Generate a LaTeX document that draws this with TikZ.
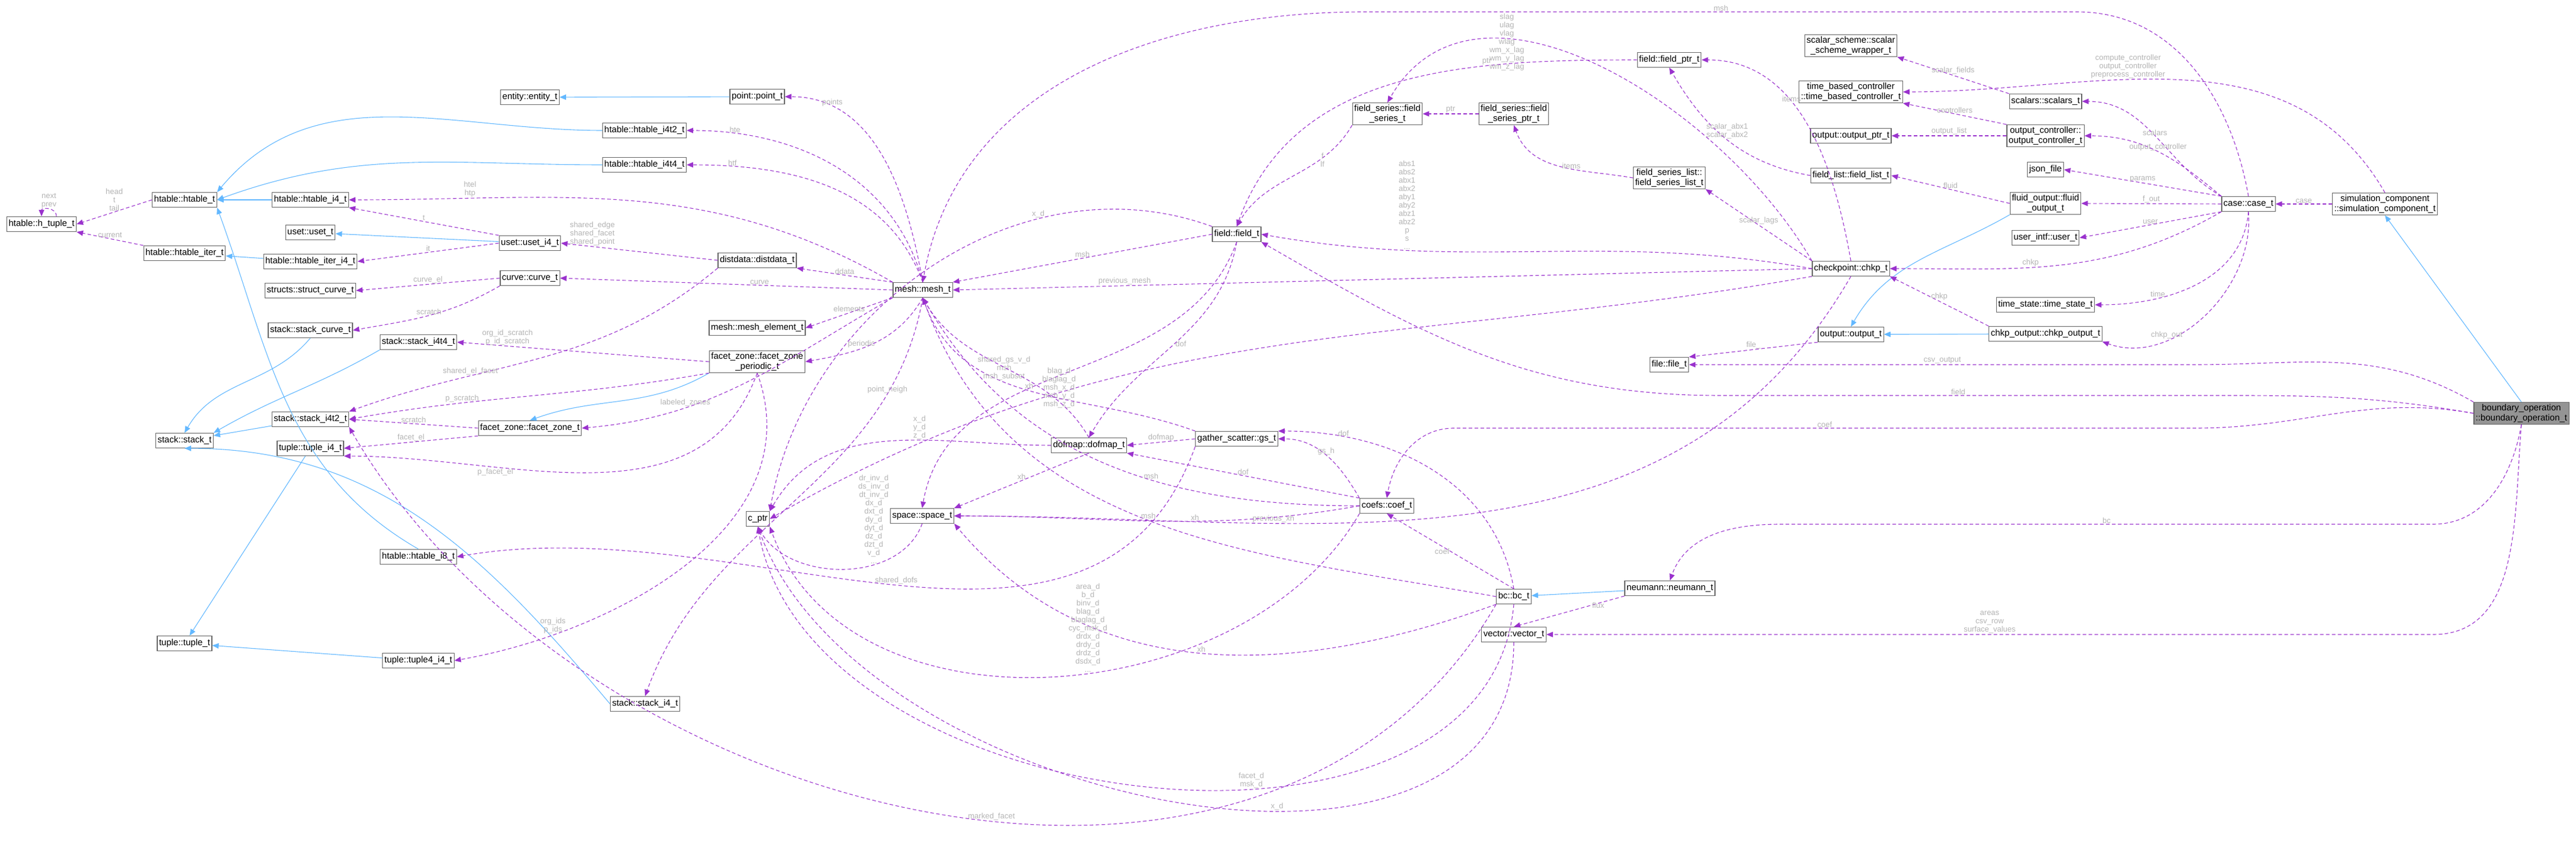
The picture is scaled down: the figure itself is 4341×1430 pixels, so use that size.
\documentclass[tikz,border=0pt]{standalone}
\usepackage{fontspec}
\setmainfont{Liberation Sans}
\usetikzlibrary{arrows.meta, positioning}
\definecolor{usecol}{HTML}{9A32CD}
\definecolor{inhcol}{HTML}{63B8FF}
\definecolor{boxcol}{HTML}{666666}
\definecolor{lblcol}{HTML}{B4B4B4}
\tikzset{
  box/.style = {draw=boxcol, line width=0.36pt, fill=white, font=\fontsize{4.5}{5.1}\selectfont,
    minimum height=7.5pt, inner sep=0.9pt, align=center},
  gbox/.style = {box, fill=black!42},
  uses/.style = {draw=usecol, dash pattern=on 1.8pt off 1.2pt, line width=0.33pt,
    -{Triangle[length=3.3pt,width=2.7pt]}},
  inherit/.style = {draw=inhcol, line width=0.33pt, -{Triangle[length=3.3pt,width=2.7pt]}},
  lbl/.style = {text=lblcol, font=\fontsize{3.9}{4.2}\selectfont, align=center, inner sep=0.3pt}
}
\begin{document}
\begin{tikzpicture}[x=0.3pt, y=-0.3pt]
\useasboundingbox (0,0) rectangle (4341,1430);
% nodes
\node[box] (htuple) at (70,378) {htable::h\_tuple\_t};
\node[box] (htable) at (311,337) {htable::htable\_t};
\node[box] (htiter) at (311,427) {htable::htable\_iter\_t};
\node[box] (hti4) at (523,337) {htable::htable\_i4\_t};
\node[box] (uset) at (523,392) {uset::uset\_t};
\node[box] (useti4) at (893,410) {uset::uset\_i4\_t};
\node[box] (htiteri4) at (523,441) {htable::htable\_iter\_i4\_t};
\node[box] (entity) at (893,164) {entity::entity\_t};
\node[box] (curve) at (893,469) {curve::curve\_t};
\node[box] (scurve) at (523,490) {structs::struct\_curve\_t};
\node[box] (stcurve) at (523,557) {stack::stack\_curve\_t};
\node[box] (sti4t4) at (705,577) {stack::stack\_i4t4\_t};
\node[box] (sti4t2) at (523,707) {stack::stack\_i4t2\_t};
\node[box] (stack) at (311,743) {stack::stack\_t};
\node[box] (tuplei4) at (523,756) {tuple::tuple\_i4\_t};
\node[box] (fzone) at (893,722) {facet\_zone::facet\_zone\_t};
\node[box] (hti8) at (705,939) {htable::htable\_i8\_t};
\node[box] (tuple) at (311,1085) {tuple::tuple\_t};
\node[box] (tuple4) at (705,1114) {tuple::tuple4\_i4\_t};
\node[box] (point) at (1276,163) {point::point\_t};
\node[box] (hti4t2) at (1086,220) {htable::htable\_i4t2\_t};
\node[box] (hti4t4) at (1086,278) {htable::htable\_i4t4\_t};
\node[box] (ddata) at (1276,439) {distdata::distdata\_t};
\node[box] (mesh) at (1555,489) {mesh::mesh\_t};
\node[box] (melem) at (1276,553) {mesh::mesh\_element\_t};
\node[box] (fzper) at (1276,610) {facet\_zone::facet\_zone\\\_periodic\_t};
\node[box] (sti4) at (1087,1187) {stack::stack\_i4\_t};
\node[box] (cptr) at (1277,875) {c\_ptr};
\node[box] (space) at (1554,870) {space::space\_t};
\node[box] (dofmap) at (1835,751) {dofmap::dofmap\_t};
\node[box] (gs) at (2084,740) {gather\_scatter::gs\_t};
\node[box] (coef) at (2337,853) {coefs::coef\_t};
\node[box] (bc) at (2551,1006) {bc::bc\_t};
\node[box] (neumann) at (2814,992) {neumann::neumann\_t};
\node[box] (vector) at (2551,1070) {vector::vector\_t};
\node[box] (field) at (2084,395) {field::field\_t};
\node[box] (fseries) at (2338,192) {field\_series::field\\\_series\_t};
\node[box] (fsptr) at (2551,192) {field\_series::field\\\_series\_ptr\_t};
\node[box] (fptr) at (2813,101) {field::field\_ptr\_t};
\node[box] (fslist) at (2813,300) {field\_series\_list::\\field\_series\_list\_t};
\node[box] (ssw) at (3119,77) {scalar\_scheme::scalar\\\_scheme\_wrapper\_t};
\node[box] (tbc) at (3119,155) {time\_based\_controller\\::time\_based\_controller\_t};
\node[box] (optr) at (3119,229) {output::output\_ptr\_t};
\node[box] (flist) at (3119,296) {field\_list::field\_list\_t};
\node[box] (chkp) at (3119,453) {checkpoint::chkp\_t};
\node[box] (output) at (3119,564) {output::output\_t};
\node[box] (file) at (2813,615) {file::file\_t};
\node[box] (scalars) at (3447,171) {scalars::scalars\_t};
\node[box] (octrl) at (3447,229) {output\_controller::\\output\_controller\_t};
\node[box] (json) at (3447,286) {json\_file};
\node[box] (fout) at (3447,343) {fluid\_output::fluid\\\_output\_t};
\node[box] (user) at (3447,401) {user\_intf::user\_t};
\node[box] (tstate) at (3447,514) {time\_state::time\_state\_t};
\node[box] (chkpout) at (3447,563) {chkp\_output::chkp\_output\_t};
\node[box] (case) at (3789,344) {case::case\_t};
\node[box] (simcomp) at (4019,344) {simulation\_component\\::simulation\_component\_t};
\node[gbox] (bop) at (4249,697) {boundary\_operation\\::boundary\_operation\_t};
% inheritance
\draw[inherit] (point) -- (entity);
\draw[inherit] (hti4t2.west) to[out=180,in=50] (htable.north east);
\draw[inherit] (hti4t4.west) to[out=180,in=20] (htable.east);
\draw[inherit] (hti4) -- (htable);
\draw[inherit] (hti8.north) to[out=150,in=-70] (htable.south east);
\draw[inherit] (htiteri4) -- (htiter);
\draw[inherit] (useti4) -- (uset);
\draw[inherit] (stcurve.south) to[out=-130,in=60] (stack.north);
\draw[inherit] (sti4t4.south west) to[out=-150,in=30] (stack.north east);
\draw[inherit] (sti4t2) -- (stack);
\draw[inherit] (sti4.west) to[out=130,in=0] (stack.south);
\draw[inherit] (tuplei4) -- (tuple);
\draw[inherit] (tuple4) -- (tuple);
\draw[inherit] (fzper.south west) to[out=-150,in=20] (fzone.north);
\draw[inherit] (fout.south west) to[out=-150,in=60] (output.north);
\draw[inherit] (chkpout) -- (output);
\draw[inherit] (neumann) -- (bc);
\draw[inherit] (bop.north) -- (simcomp.south);
% members, left part
\draw[uses] ([xshift=7.5pt]htuple.north) to[out=90,in=90,looseness=1.6] node[lbl,above]{next\\prev} (htuple.north);
\draw[uses] (htable.west) -- node[lbl,above]{head\\t\\tail} (htuple.east);
\draw[uses] (htiter.north west) -- node[lbl,above]{current} (htuple.south east);
\draw[uses] (useti4.north west) -- node[lbl,above]{t} (hti4.south east);
\draw[uses] (useti4.west) -- node[lbl,above]{it} (htiteri4.east);
\draw[uses] (curve.west) -- node[lbl,above]{curve\_el} (scurve.east);
\draw[uses] (curve.south west) to[out=-150,in=10] node[lbl,above]{scratch} (stcurve.east);
\draw[uses] (mesh.north west) to[out=150,in=0] node[lbl,above,pos=0.8]{htel\\htp} (hti4.east);
\draw[uses] (ddata.west) -- node[lbl,above,pos=0.8]{shared\_edge\\shared\_facet\\shared\_point} (useti4.east);
\draw[uses] (mesh.west) -- node[lbl,above,pos=0.4]{curve} (curve.east);
\draw[uses] (fzper.west) -- node[lbl,above,pos=0.8]{org\_id\_scratch\\p\_id\_scratch} (sti4t4.east);
\draw[uses] (ddata.south west) to[out=-140,in=20] node[lbl,above,pos=0.7]{shared\_el\_facet} (sti4t2.north east);
\draw[uses] (fzper.south west) to[out=-170,in=10] node[lbl,above,pos=0.7]{p\_scratch} (sti4t2.east);
\draw[uses] (fzone.west) -- node[lbl,above]{scratch} (sti4t2.east);
\draw[uses] (fzone.south west) -- node[lbl,above]{facet\_el} (tuplei4.east);
\draw[uses] (fzper.south) to[out=-110,in=0] node[lbl,below,pos=0.7]{p\_facet\_el} (tuplei4.south east);
\draw[uses] (mesh.south west) to[out=-150,in=5] node[lbl,above,pos=0.7]{labeled\_zones} (fzone.east);
\draw[uses] (mesh.south) to[out=-100,in=70] node[lbl,above,pos=0.2]{point\_neigh} (sti4.north);
\draw[uses] (fzper.south) to[out=-70,in=10] node[lbl,above,pos=0.8]{org\_ids\\p\_ids} (tuple4.east);
\draw[uses] (bc.south west) to[out=-120,in=-60] node[lbl,above,pos=0.45]{marked\_facet} (sti4t2.south east);
\draw[uses] (gs.south west) to[out=-110,in=10] node[lbl,above,pos=0.5]{shared\_dofs} (hti8.east);
% members of mesh
\draw[uses] (mesh.north) to[out=100,in=0] node[lbl,above,pos=0.8]{points} (point.east);
\draw[uses] (mesh.north) to[out=105,in=0] node[lbl,above,pos=0.85]{hte} (hti4t2.east);
\draw[uses] (mesh.north) to[out=110,in=0] node[lbl,above,pos=0.85]{htf} (hti4t4.east);
\draw[uses] (mesh.north west) -- node[lbl,above]{ddata} (ddata.south east);
\draw[uses] (mesh.south west) -- node[lbl,above]{elements} (melem.east);
\draw[uses] (mesh.south) to[out=-120,in=10] node[lbl,above,pos=0.6]{periodic} (fzper.east);
% field and friends
\draw[uses] (field.west) -- node[lbl,above]{msh} (mesh.north east);
\draw[uses] (field.north west) to[out=160,in=80] node[lbl,above,pos=0.3]{x\_d} (cptr.north east);
\draw[uses] (field.south) to[out=-110,in=80] node[lbl,above,pos=0.6]{xh} (space.north);
\draw[uses] (field.south) to[out=-100,in=60] node[lbl,right,pos=0.5]{dof} (dofmap.north);
\draw[uses] (case.north) to[out=100,in=0] (3500,20) -- node[lbl,above]{msh} (2300,20) to[out=180,in=80] (mesh.north);
\draw[uses] (fseries.south west) to[out=-120,in=60] node[lbl,right,pos=0.3]{f\\lf} (field.north);
\draw[uses] (fsptr) -- node[lbl,above]{ptr} (fseries);
\draw[uses] (fptr.west) to[out=180,in=70] node[lbl,above,pos=0.3]{ptr} (field.north);
\draw[uses] (fslist.west) to[out=170,in=-70] node[lbl,right,pos=0.5]{items} (fsptr.south);
\draw[uses] (flist.west) to[out=170,in=-60] node[lbl,above,pos=0.5]{scalar\_abx1\\scalar\_abx2} (fptr.south);
\draw[uses] (chkp.north) to[out=100,in=0] node[lbl,above,pos=0.6]{items} (fptr.east);
\draw[uses] (chkp.north west) to[out=120,in=60] node[lbl,left,pos=0.65]{slag\\ulag\\vlag\\wlag\\wm\_x\_lag\\wm\_y\_lag\\wm\_z\_lag} (fseries.north);
\draw[uses] (chkp.west) to[out=170,in=-10] node[lbl,above,pos=0.75]{abs1\\abs2\\abx1\\abx2\\aby1\\aby2\\abz1\\abz2\\p\\s\\...} (field.east);
\draw[uses] (chkp.north west) -- node[lbl,above]{scalar\_lags} (fslist.south east);
\draw[uses] (chkp.west) -- node[lbl,above,pos=0.8]{previous\_mesh} (mesh.east);
\draw[uses] (chkp.south west) to[out=-170,in=30] node[lbl,left,pos=0.7]{blag\_d\\blaglag\_d\\msh\_x\_d\\msh\_y\_d\\msh\_z\_d} (cptr.east);
\draw[uses] (chkp.south) to[out=-120,in=0] node[lbl,above,pos=0.7]{previous\_xh} (space.east);
\draw[uses] (octrl.north west) -- node[lbl,above]{controllers} (tbc.south east);
\draw[uses] (octrl.west) -- node[lbl,above]{output\_list} (optr.east);
\draw[uses] (scalars.north west) -- node[lbl,above]{scalar\_fields} (ssw.south east);
\draw[uses] (fout.west) -- node[lbl,above]{fluid} (flist.east);
\draw[uses] (chkpout.north west) -- node[lbl,above]{chkp} (chkp.south east);
\draw[uses] (output.south west) -- node[lbl,above]{file\_} (file.north east);
\draw[uses] (bop.north west) to[out=150,in=0] (3700,615) -- node[lbl,above]{csv\_output} (file.east);
\draw[uses] (bop.west) to[out=170,in=0] (3700,667) -- node[lbl,above]{field} (2900,667) to[out=180,in=-30] (field.south east);
\draw[uses] (simcomp.north) to[out=120,in=0] node[lbl,above,pos=0.6]{compute\_controller\\output\_controller\\preprocess\_controller} (tbc.east);
\draw[uses] (case.north west) to[out=150,in=0] node[lbl,above]{scalars} (scalars.east);
\draw[uses] (case.north west) to[out=140,in=0] node[lbl,above]{output\_controller} (octrl.east);
\draw[uses] (case.north west) -- node[lbl,above]{params} (json.east);
\draw[uses] (case.west) -- node[lbl,above]{f\_out} (fout.east);
\draw[uses] (case.south west) -- node[lbl,above]{user} (user.east);
\draw[uses] (case.south west) to[out=-150,in=0] node[lbl,above,pos=0.6]{chkp} (chkp.east);
\draw[uses] (case.south) to[out=-95,in=0] node[lbl,above,pos=0.7]{time} (tstate.east);
\draw[uses] (case.south) to[out=-85,in=-20] node[lbl,above,pos=0.7]{chkp\_out} (chkpout.south east);
\draw[uses] (simcomp) -- node[lbl,above]{case} (case);
% boundary operation, coefs, bc
\draw[uses] (bop.west) to[out=170,in=0] (3700,722) -- node[lbl,above]{coef} (2450,722) to[out=180,in=80] (coef.north);
\draw[uses] (bop.south) to[out=-100,in=0] (4100,884) -- node[lbl,above]{bc} (3000,884) to[out=180,in=70] (neumann.north);
\draw[uses] (bop.south) to[out=-95,in=0] (4100,1070) -- node[lbl,above]{areas\\csv\_row\\surface\_values} (vector.east);
\draw[uses] (neumann.south west) -- node[lbl,right,pos=0.3]{flux} (vector.north);
\draw[uses] (bc.north) -- node[lbl,left]{coef} (coef.south);
\draw[uses] (bc.north) to[out=100,in=0] node[lbl,above,pos=0.8]{dof} (gs.north east);
\draw[uses] (bc.west) to[out=170,in=-70] node[lbl,above,pos=0.5]{msh} (mesh.south);
\draw[uses] (bc.south west) to[out=-160,in=-50] node[lbl,above,pos=0.5]{xh} (space.south east);
\draw[uses] (bc.south) to[out=-95,in=-80] node[lbl,above,pos=0.4]{facet\_d\\msk\_d} (cptr.south);
\draw[uses] (vector.south) to[out=-90,in=-70] node[lbl,above,pos=0.4]{x\_d} (cptr.south);
\draw[uses] (coef.north west) to[out=120,in=0] node[lbl,above,pos=0.5]{gs\_h} (gs.east);
\draw[uses] (coef.north west) -- node[lbl,above]{dof} (dofmap.south east);
\draw[uses] (coef.west) to[out=180,in=-60] node[lbl,above,pos=0.4]{msh} (mesh.south);
\draw[uses] (coef.west) to[out=-170,in=0] node[lbl,above,pos=0.4]{xh} (space.east);
\draw[uses] (coef.south west) to[out=-120,in=-70] node[lbl,above,pos=0.45]{area\_d\\b\_d\\binv\_d\\blag\_d\\blaglag\_d\\cyc\_msk\_d\\drdx\_d\\drdy\_d\\drdz\_d\\dsdx\_d\\...} (cptr.south east);
\draw[uses] (gs.west) -- node[lbl,above]{dofmap} (dofmap.east);
\draw[uses] (gs.north west) to[out=160,in=-70] node[lbl,above,pos=0.6]{shared\_gs\_v\_d\\msh\\msh\_subset} (mesh.south);
\draw[uses] (dofmap.west) to[out=180,in=60] node[lbl,above,pos=0.4]{x\_d\\y\_d\\z\_d} (cptr.north east);
\draw[uses] (dofmap.south) -- node[lbl,above]{xh} (space.north east);
\draw[uses] (dofmap.north) to[out=120,in=-60] (mesh.south);
\draw[uses] (space.south) to[out=-110,in=-60] node[lbl,above,pos=0.35]{dr\_inv\_d\\ds\_inv\_d\\dt\_inv\_d\\dx\_d\\dxt\_d\\dy\_d\\dyt\_d\\dz\_d\\dzt\_d\\v\_d\\...} (cptr.south);
\end{tikzpicture}
\end{document}
